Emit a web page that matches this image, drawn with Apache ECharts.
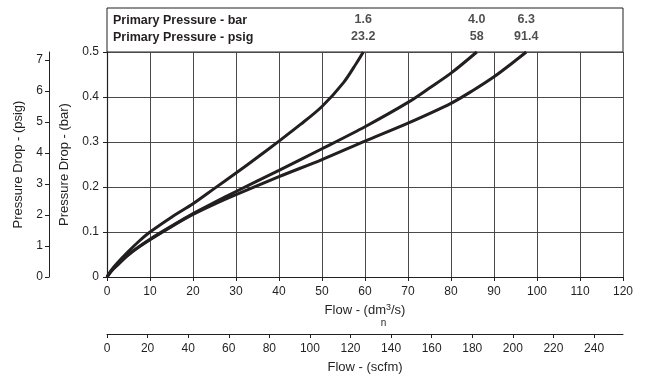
<!DOCTYPE html>
<html>
<head>
<meta charset="utf-8">
<script src="https://cdn.jsdelivr.net/npm/echarts@6/dist/echarts.min.js"></script>
<style>html,body{margin:0;padding:0;background:#fff;}#c{width:650px;height:379px;}</style>
</head>
<body>
<div id="c"></div>
<script>
// ---- data ----
const flow16 = [0, 1, 2.5, 5, 7.5, 10, 15, 20, 25, 30, 35, 40, 45, 50, 55, 58, 59.6];
const drop16 = [0, 0.015, 0.032, 0.057, 0.08, 0.1, 0.133, 0.163, 0.197, 0.231, 0.266, 0.302, 0.339, 0.379, 0.432, 0.475, 0.5];
const flow40 = [0, 1, 2.5, 5, 7.5, 10, 15, 20, 25, 30, 40, 50, 60, 70, 75, 80, 86];
const drop40 = [0, 0.013, 0.028, 0.05, 0.068, 0.084, 0.113, 0.141, 0.166, 0.19, 0.237, 0.285, 0.334, 0.388, 0.42, 0.453, 0.5];
const flow63 = [0, 1, 2.5, 5, 7.5, 10, 15, 20, 25, 30, 40, 50, 60, 70, 80, 85, 90, 95, 97.5];
const drop63 = [0, 0.013, 0.027, 0.049, 0.067, 0.083, 0.112, 0.139, 0.162, 0.183, 0.223, 0.261, 0.302, 0.342, 0.386, 0.414, 0.445, 0.481, 0.5];
const pressureBar = ['1.6', '4.0', '6.3'];
const pressurePsig = ['23.2', '58', '91.4'];
const flowTicks = [0, 10, 20, 30, 40, 50, 60, 70, 80, 90, 100, 110, 120];
const scfmTicks = [0, 20, 40, 60, 80, 100, 120, 140, 160, 180, 200, 220, 240];
const barTicks = [0, 0.1, 0.2, 0.3, 0.4, 0.5];
const psigTicks = [0, 1, 2, 3, 4, 5, 6, 7];
const BAR_TO_PSIG = 14.5038;
const DM3S_TO_SCFM = 2.1189;

const INK = '#231f20';
const FONT = 'Liberation Sans, Arial, sans-serif';

function lineSeries(flows, drops) {
  return {
    type: 'line',
    xAxisIndex: 0,
    yAxisIndex: 0,
    data: flows.map((f, i) => [f, drops[i]]),
    smooth: 0.3,
    showSymbol: false,
    symbol: 'none',
    lineStyle: { color: INK, width: 3 },
    silent: true,
    animation: false,
    z: 5
  };
}

// header values placed above each curve's end flow
const endFlows = [flow16[flow16.length - 1], flow40[flow40.length - 1], flow63[flow63.length - 1]];
function headerSeries(texts, row) {
  return {
    type: 'scatter',
    xAxisIndex: 2,
    yAxisIndex: 2,
    symbolSize: 0,
    silent: true,
    data: endFlows.map((f, i) => ({ value: [f, row], label: { formatter: texts[i] } })),
    label: {
      show: true,
      position: 'inside',
      fontFamily: FONT,
      fontWeight: 'bold',
      fontSize: 12.5,
      color: INK
    }
  };
}

const chart = echarts.init(document.getElementById('c'), null, { renderer: 'canvas' });
const axisText = { color: INK, fontFamily: FONT, fontSize: 12 };
const nameText = { color: INK, fontFamily: FONT, fontSize: 13 };

const option = {
  animation: false,
  backgroundColor: '#fff',
  grid: [
    { left: 107, right: 27, top: 52, bottom: 101, show: false },
    { left: 107, right: 27, top: 8, height: 44, show: true, borderColor: INK, borderWidth: 1, backgroundColor: 'transparent' }
  ],
  xAxis: [
    {
      type: 'value', gridIndex: 0, min: flowTicks[0], max: flowTicks[flowTicks.length - 1], interval: 10,
      position: 'bottom',
      axisLine: { show: true, onZero: false, lineStyle: { color: INK, width: 1.2 } },
      axisTick: { show: true, length: 4, lineStyle: { color: INK } },
      axisLabel: Object.assign({ margin: 9 }, axisText),
      splitLine: { show: true, lineStyle: { color: '#4a4a4a', width: 1 } },
      name: 'Flow - (dm{sup|3}/s)\n{sub|n}',
      nameLocation: 'middle',
      nameGap: 25,
      nameTextStyle: Object.assign({
        lineHeight: 16,
        rich: {
          sup: { fontFamily: FONT, fontSize: 9, color: INK, verticalAlign: 'top', lineHeight: 16 },
          sub: { fontFamily: FONT, fontSize: 10, color: INK, lineHeight: 8, padding: [0, 0, 0, 37] }
        }
      }, nameText)
    },
    {
      type: 'value', gridIndex: 0, min: 0, max: flowTicks[flowTicks.length - 1] * DM3S_TO_SCFM,
      position: 'bottom', offset: 57,
      axisLine: { show: true, onZero: false, lineStyle: { color: INK, width: 1 } },
      axisTick: { show: true, length: 4, lineStyle: { color: INK }, customValues: scfmTicks },
      axisLabel: Object.assign({ margin: 9, customValues: scfmTicks }, axisText),
      splitLine: { show: false },
      name: 'Flow - (scfm)',
      nameLocation: 'middle',
      nameGap: 27,
      nameTextStyle: nameText
    },
    { type: 'value', gridIndex: 1, min: 0, max: 120, show: false }
  ],
  yAxis: [
    {
      type: 'value', gridIndex: 0, min: barTicks[0], max: barTicks[barTicks.length - 1], interval: 0.1,
      position: 'left',
      axisLine: { show: true, onZero: false, lineStyle: { color: INK, width: 1.2 } },
      axisTick: { show: true, length: 4, lineStyle: { color: INK } },
      axisLabel: Object.assign({ margin: 8 }, axisText),
      splitLine: { show: true, lineStyle: { color: '#4a4a4a', width: 1 } },
      name: 'Pressure Drop - (bar)',
      nameLocation: 'middle',
      nameGap: 36,
      nameTextStyle: nameText
    },
    {
      type: 'value', gridIndex: 0, min: 0, max: barTicks[barTicks.length - 1] * BAR_TO_PSIG,
      position: 'left', offset: 58,
      axisLine: { show: true, onZero: false, lineStyle: { color: INK, width: 1 } },
      axisTick: { show: true, length: 4, lineStyle: { color: INK }, customValues: psigTicks },
      axisLabel: Object.assign({ margin: 6, customValues: psigTicks }, axisText),
      splitLine: { show: false },
      name: 'Pressure Drop - (psig)',
      nameLocation: 'middle',
      nameGap: 24,
      nameTextStyle: nameText
    },
    { type: 'value', gridIndex: 1, min: 0, max: 44, show: false }
  ],
  graphic: [
    { type: 'text', left: 113, top: 14, style: { text: 'Primary Pressure - bar', font: 'bold 12.5px ' + FONT, fill: INK } },
    { type: 'text', left: 113, top: 31, style: { text: 'Primary Pressure - psig', font: 'bold 12.5px ' + FONT, fill: INK } }
  ],
  series: [
    lineSeries(flow16, drop16),
    lineSeries(flow40, drop40),
    lineSeries(flow63, drop63),
    headerSeries(pressureBar, 32),
    headerSeries(pressurePsig, 15)
  ]
};
chart.setOption(option);
</script>
</body>
</html>
